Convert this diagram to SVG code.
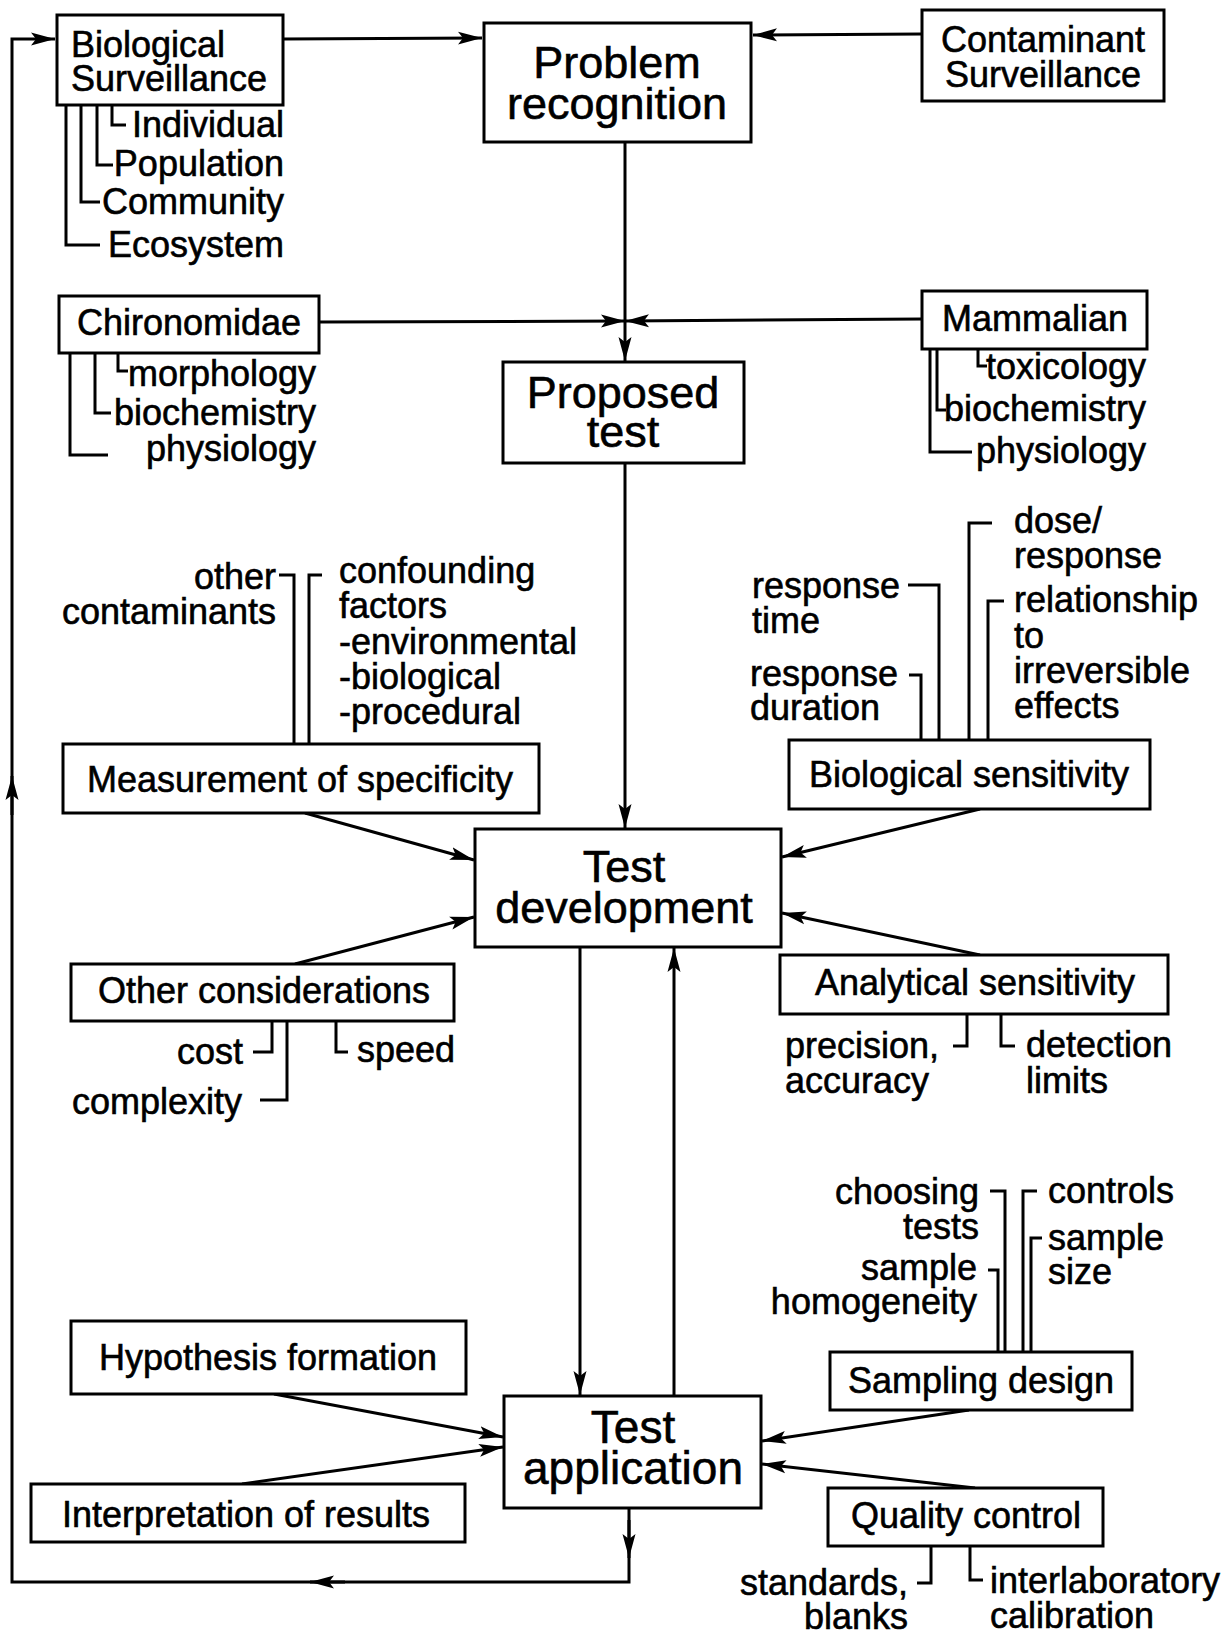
<svg xmlns="http://www.w3.org/2000/svg" width="1224" height="1634" viewBox="0 0 1224 1634">
<style>
.box{fill:#fff;stroke:#000;stroke-width:3}
.ln{fill:none;stroke:#000;stroke-width:3}
.br{fill:none;stroke:#000;stroke-width:3}
text{font-family:"Liberation Sans",Arial,Helvetica,sans-serif;fill:#000;stroke:#000;stroke-width:0.6;font-size:36px}
.big{font-size:45px}
.c{text-anchor:middle}
.e{text-anchor:end}
</style>
<defs>
<marker id="ah" markerUnits="userSpaceOnUse" markerWidth="26" markerHeight="16" refX="24" refY="8" orient="auto">
<path d="M0,1.5 L24,8 L0,14.5 L5,8 Z" fill="#000"/>
</marker>
</defs>
<g id="connectors">
<line class="ln" x1="283" y1="39" x2="482" y2="38" marker-end="url(#ah)"/>
<line class="ln" x1="922" y1="34" x2="753" y2="35" marker-end="url(#ah)"/>
<line class="ln" x1="625" y1="142" x2="625" y2="361" marker-end="url(#ah)"/>
<line class="ln" x1="319" y1="322" x2="625" y2="321" marker-end="url(#ah)"/>
<line class="ln" x1="922" y1="319" x2="625" y2="321" marker-end="url(#ah)"/>
<line class="ln" x1="625" y1="463" x2="625" y2="828" marker-end="url(#ah)"/>
<line class="ln" x1="305" y1="813" x2="474" y2="860" marker-end="url(#ah)"/>
<line class="ln" x1="295" y1="964" x2="474" y2="917" marker-end="url(#ah)"/>
<line class="ln" x1="980" y1="809" x2="782" y2="857" marker-end="url(#ah)"/>
<line class="ln" x1="980" y1="955" x2="782" y2="913" marker-end="url(#ah)"/>
<line class="ln" x1="580" y1="947" x2="580" y2="1395" marker-end="url(#ah)"/>
<line class="ln" x1="674" y1="1396" x2="674" y2="948" marker-end="url(#ah)"/>
<line class="ln" x1="274" y1="1394" x2="503" y2="1437" marker-end="url(#ah)"/>
<line class="ln" x1="242" y1="1484" x2="503" y2="1447" marker-end="url(#ah)"/>
<line class="ln" x1="969" y1="1410" x2="762" y2="1441" marker-end="url(#ah)"/>
<line class="ln" x1="975" y1="1488" x2="762" y2="1464" marker-end="url(#ah)"/>
<polyline class="ln" points="629,1508 629,1582 12,1582 12,39 55,39" marker-end="url(#ah)"/>
<line class="ln" x1="629" y1="1520" x2="629" y2="1558" marker-end="url(#ah)"/>
<line class="ln" x1="345" y1="1582" x2="310" y2="1582" marker-end="url(#ah)"/>
<line class="ln" x1="12" y1="815" x2="12" y2="776" marker-end="url(#ah)"/>
</g>
<g id="bio-surveillance">
<rect class="box" x="57" y="15" width="226" height="90"/>
<text x="71" y="57">Biological<tspan x="71" y="91">Surveillance</tspan></text>
<polyline class="br" points="112,105 112,125 126,125"/>
<polyline class="br" points="97,105 97,165 113,165"/>
<polyline class="br" points="81,105 81,202 100,202"/>
<polyline class="br" points="66,105 66,245 100,245"/>
<text class="e" x="284" y="137">Individual<tspan x="284" y="176">Population</tspan><tspan x="284" y="214">Community</tspan><tspan x="284" y="257">Ecosystem</tspan></text>
</g>
<g id="problem-recognition">
<rect class="box" x="484" y="23" width="267" height="119"/>
<text class="big c" x="617" y="78">Problem<tspan x="617" y="119">recognition</tspan></text>
</g>
<g id="contaminant-surveillance">
<rect class="box" x="922" y="10" width="242" height="91"/>
<text class="c" x="1043" y="52">Contaminant<tspan x="1043" y="87">Surveillance</tspan></text>
</g>
<g id="chironomidae">
<rect class="box" x="59" y="296" width="260" height="57"/>
<text class="c" x="189" y="335">Chironomidae</text>
<polyline class="br" points="118,353 118,371 128,371"/>
<polyline class="br" points="95,353 95,413 111,413"/>
<polyline class="br" points="70,353 70,455 108,455"/>
<text class="e" x="316" y="386">morphology<tspan x="316" y="425">biochemistry</tspan><tspan x="316" y="461">physiology</tspan></text>
</g>
<g id="mammalian">
<rect class="box" x="922" y="291" width="225" height="58"/>
<text class="c" x="1035" y="331">Mammalian</text>
<polyline class="br" points="978,349 978,366 987,366"/>
<polyline class="br" points="937,349 937,410 946,410"/>
<polyline class="br" points="930,349 930,452 972,452"/>
<text class="e" x="1146" y="379">toxicology<tspan x="1146" y="421">biochemistry</tspan><tspan x="1146" y="463">physiology</tspan></text>
</g>
<g id="proposed-test">
<rect class="box" x="503" y="362" width="241" height="101"/>
<text class="big c" x="623" y="408">Proposed<tspan x="623" y="447">test</tspan></text>
</g>
<g id="measurement-of-specificity">
<rect class="box" x="63" y="744" width="476" height="69"/>
<text class="c" x="300" y="792">Measurement of specificity</text>
<polyline class="br" points="279,575 294,575 294,744"/>
<polyline class="br" points="322,575 309,575 309,744"/>
<text class="e" x="276" y="589">other<tspan x="276" y="624">contaminants</tspan></text>
<text x="339" y="583">confounding<tspan x="339" y="618">factors</tspan><tspan x="339" y="654">-environmental</tspan><tspan x="339" y="689">-biological</tspan><tspan x="339" y="724">-procedural</tspan></text>
</g>
<g id="biological-sensitivity">
<rect class="box" x="789" y="740" width="361" height="69"/>
<text class="c" x="969" y="787">Biological sensitivity</text>
<polyline class="br" points="908,585 939,585 939,740"/>
<polyline class="br" points="909,675 921,675 921,740"/>
<polyline class="br" points="992,523 969,523 969,740"/>
<polyline class="br" points="1004,601 988,601 988,740"/>
<text x="752" y="598">response<tspan x="752" y="633">time</tspan></text>
<text x="750" y="686">response<tspan x="750" y="720">duration</tspan></text>
<text x="1014" y="533">dose/<tspan x="1014" y="568">response</tspan></text>
<text x="1014" y="612">relationship<tspan x="1014" y="648">to</tspan><tspan x="1014" y="683">irreversible</tspan><tspan x="1014" y="718">effects</tspan></text>
</g>
<g id="test-development">
<rect class="box" x="475" y="829" width="306" height="118"/>
<text class="big c" x="624" y="882">Test<tspan x="624" y="923">development</tspan></text>
</g>
<g id="other-considerations">
<rect class="box" x="71" y="964" width="383" height="57"/>
<text class="c" x="264" y="1003">Other considerations</text>
<polyline class="br" points="253,1052 272,1052 272,1021"/>
<polyline class="br" points="260,1100 287,1100 287,1021"/>
<polyline class="br" points="336,1021 336,1052 348,1052"/>
<text class="e" x="243" y="1064">cost<tspan x="242" y="1114">complexity</tspan></text>
<text x="357" y="1062">speed</text>
</g>
<g id="analytical-sensitivity">
<rect class="box" x="780" y="955" width="388" height="59"/>
<text class="c" x="975" y="995">Analytical sensitivity</text>
<polyline class="br" points="953,1046 967,1046 967,1014"/>
<polyline class="br" points="1001,1014 1001,1046 1015,1046"/>
<text x="785" y="1058">precision,<tspan x="785" y="1093">accuracy</tspan></text>
<text x="1026" y="1057">detection<tspan x="1026" y="1093">limits</tspan></text>
</g>
<g id="hypothesis-formation">
<rect class="box" x="71" y="1321" width="395" height="73"/>
<text class="c" x="268" y="1370">Hypothesis formation</text>
</g>
<g id="interpretation-of-results">
<rect class="box" x="31" y="1484" width="434" height="58"/>
<text class="c" x="246" y="1527">Interpretation of results</text>
</g>
<g id="test-application">
<rect class="box" x="504" y="1396" width="257" height="112"/>
<text class="big c" x="633" y="1443" style="font-size:46px">Test<tspan x="633" y="1484">application</tspan></text>
</g>
<g id="sampling-design">
<rect class="box" x="830" y="1352" width="302" height="58"/>
<text class="c" x="981" y="1393">Sampling design</text>
<polyline class="br" points="990,1191 1005,1191 1005,1352"/>
<polyline class="br" points="988,1270 998,1270 998,1352"/>
<polyline class="br" points="1037,1191 1023,1191 1023,1352"/>
<polyline class="br" points="1042,1238 1031,1238 1031,1352"/>
<text class="e" x="979" y="1204">choosing<tspan x="979" y="1239">tests</tspan></text>
<text class="e" x="977" y="1280">sample<tspan x="977" y="1314">homogeneity</tspan></text>
<text x="1048" y="1203">controls</text>
<text x="1048" y="1250">sample<tspan x="1048" y="1284">size</tspan></text>
</g>
<g id="quality-control">
<rect class="box" x="828" y="1488" width="275" height="58"/>
<text class="c" x="966" y="1528">Quality control</text>
<polyline class="br" points="917,1583 931,1583 931,1546"/>
<polyline class="br" points="970,1546 970,1580 983,1580"/>
<text class="e" x="908" y="1595">standards,<tspan x="908" y="1629">blanks</tspan></text>
<text x="990" y="1593">interlaboratory<tspan x="990" y="1628">calibration</tspan></text>
</g>
</svg>
